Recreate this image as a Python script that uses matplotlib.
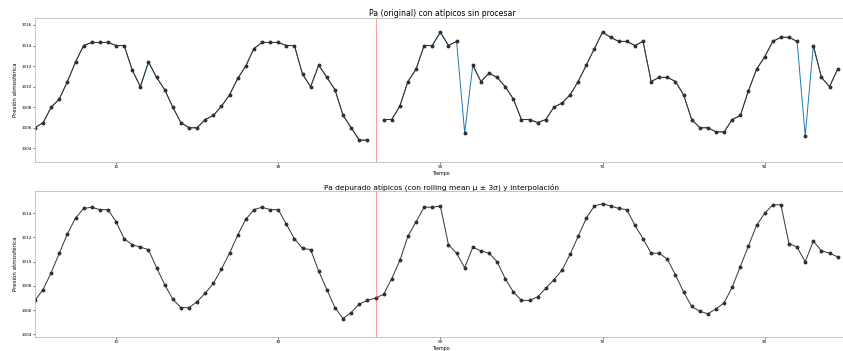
import numpy as np
import matplotlib
matplotlib.use("Agg")
import matplotlib.pyplot as plt

# =========================
# Datos
# =========================

pa_original = [
    1006.0, 1006.5, 1008.0, 1008.8, 1010.5, 1012.4, 1014.0, 1014.3, 1014.3, 1014.3,
    1014.0, 1014.0, 1011.6, 1010.0, 1012.4, 1010.9, 1009.7, 1008.0, 1006.5, 1006.0,
    1006.0, 1006.8, 1007.2, 1008.1, 1009.2, 1010.8, 1012.0, 1013.7, 1014.3, 1014.3,
    1014.3, 1014.0, 1014.0, 1011.2, 1010.0, 1012.1, 1010.9, 1009.7, 1007.2, 1006.0,
    1004.8, 1004.8, np.nan, 1006.8, 1006.8, 1008.1, 1010.5, 1011.7, 1014.0, 1014.0,
    1015.3, 1014.0, 1014.4, 1005.5, 1012.1, 1010.5, 1011.3, 1010.9, 1010.0, 1008.8,
    1006.8, 1006.8, 1006.5, 1006.8, 1008.0, 1008.4, 1009.2, 1010.5, 1012.1, 1013.7,
    1015.3, 1014.8, 1014.4, 1014.4, 1014.0, 1014.4, 1010.5, 1010.9, 1010.9, 1010.5,
    1009.2, 1006.8, 1006.0, 1006.0, 1005.6, 1005.6, 1006.8, 1007.2, 1009.6, 1011.7,
    1012.9, 1014.4, 1014.8, 1014.8, 1014.4, 1005.2, 1014.0, 1010.9, 1010.0, 1011.7,
]

pa_limpio = [
    1006.8, 1007.7, 1009.1, 1010.7, 1012.3, 1013.6, 1014.4, 1014.5, 1014.3, 1014.3,
    1013.3, 1011.9, 1011.4, 1011.2, 1011.0, 1009.5, 1008.1, 1006.9, 1006.2, 1006.2,
    1006.7, 1007.4, 1008.2, 1009.4, 1010.7, 1012.2, 1013.5, 1014.3, 1014.5, 1014.3,
    1014.3, 1013.1, 1011.9, 1011.1, 1011.0, 1009.2, 1007.7, 1006.2, 1005.3, 1005.8,
    1006.5, 1006.8, 1007.0, 1007.3, 1008.6, 1010.1, 1012.1, 1013.3, 1014.5, 1014.5,
    1014.6, 1011.4, 1010.7, 1009.5, 1011.2, 1010.9, 1010.7, 1010.0, 1008.6, 1007.5,
    1006.8, 1006.8, 1007.1, 1007.8, 1008.5, 1009.3, 1010.6, 1012.1, 1013.6, 1014.6,
    1014.8, 1014.6, 1014.4, 1014.3, 1013.0, 1011.9, 1010.7, 1010.7, 1010.2, 1008.9,
    1007.5, 1006.3, 1005.9, 1005.7, 1006.1, 1006.6, 1007.9, 1009.6, 1011.3, 1013.0,
    1014.0, 1014.7, 1014.7, 1011.5, 1011.2, 1010.0, 1011.7, 1010.9, 1010.7, 1010.4,
]

atipicos = [53, 95]          # posiciones marcadas como atípicas
corte = 42                   # hueco en la serie original
xticks = [10, 30, 50, 70, 90]
yticks_top = [1004, 1006, 1008, 1010, 1012, 1014, 1016]
yticks_bot = [1004, 1006, 1008, 1010, 1012, 1014]

# =========================
# Gráfico
# =========================

x = np.arange(len(pa_original))
orig = np.array(pa_original)
limpio = np.array(pa_limpio)
sin_atipicos = orig.copy()
sin_atipicos[atipicos] = np.nan

fig = plt.figure(figsize=(8.43, 3.51), dpi=100)
ax1 = fig.add_axes([0.0415, 0.5385, 0.9656, 0.4094])
ax2 = fig.add_axes([0.0415, 0.0407, 0.9656, 0.4151])

ax1.plot(x, orig, color='tab:blue', linewidth=0.7)
ax1.plot(x, sin_atipicos, color='#333333', linewidth=0.7)
ax1.plot(x, orig, 'o', color='#3a2d2d', markersize=1.8)
ax1.axvline(corte, color='red', linewidth=0.6, alpha=0.45)
ax1.set_xlim(0, 100.4)
ax1.set_ylim(1002.67, 1016.65)
ax1.set_yticks(yticks_top)
ax1.set_title('Pa (original) con atípicos sin procesar', fontsize=5.6, pad=1)
ax1.set_xlabel('Tiempo', fontsize=3.4, labelpad=1)
ax1.set_ylabel('Presión atmosférica', fontsize=4, labelpad=2)

ax2.plot(x, limpio, color='#333333', linewidth=0.7)
ax2.plot(x, limpio, 'o', color='#3a2d2d', markersize=1.8)
ax2.axvline(corte, color='red', linewidth=0.6, alpha=0.45)
ax2.set_xlim(0, 100.4)
ax2.set_ylim(1003.8, 1015.84)
ax2.set_yticks(yticks_bot)
ax2.set_title('Pa depurado atípicos (con rolling mean μ ± 3σ) y interpolación', fontsize=5.4, pad=1)
ax2.set_xlabel('Tiempo', fontsize=3.4, labelpad=1)
ax2.set_ylabel('Presión atmosférica', fontsize=4, labelpad=2)

for ax in (ax1, ax2):
    ax.set_xticks(xticks)
    ax.tick_params(labelsize=3, length=1.5, width=0.4, pad=1)
    for s in ax.spines.values():
        s.set_color('#bbbbbb')
        s.set_linewidth(0.6)

fig.savefig('out.png', dpi=100)
